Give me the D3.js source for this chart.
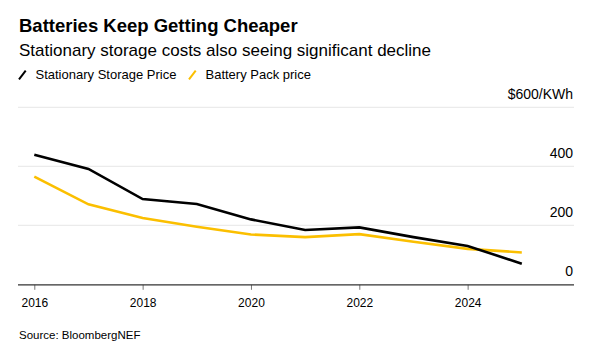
<!DOCTYPE html>
<html>
<head>
<meta charset="utf-8">
<script src="https://cdn.jsdelivr.net/npm/d3@7"></script>
<style>
  body { margin: 0; background: #fff; }
  svg { display: block; font-family: "Liberation Sans", Arial, sans-serif; }
</style>
</head>
<body>
<svg id="chart" width="593" height="348"></svg>
<script>
// values
var years = [2016, 2017, 2018, 2019, 2020, 2021, 2022, 2023, 2024, 2025];
var storagePrice = [439, 391, 289, 272, 220, 184, 193, 160, 130, 70];
var packPrice = [365, 271, 225, 195, 169, 160, 170, 144, 120, 108];
var xTicks = [2016, 2018, 2020, 2022, 2024];
var yTicks = [0, 200, 400, 600];

var svg = d3.select('#chart');

var x = d3.scaleLinear().domain([2016, 2025]).range([34.3, 521.8]);
var y = d3.scaleLinear().domain([0, 600]).range([284.3, 107.3]);
var left = 18, right = 574;

// titles
svg.append('text').attr('x', 19).attr('y', 31.5)
  .attr('font-size', 18.5).attr('font-weight', 'bold').attr('fill', '#000')
  .text('Batteries Keep Getting Cheaper');
svg.append('text').attr('x', 19).attr('y', 56)
  .attr('font-size', 17).attr('fill', '#000')
  .text('Stationary storage costs also seeing significant decline');

// legend
var legend = [
  {label: 'Stationary Storage Price', color: '#000', x: 19},
  {label: 'Battery Pack price', color: '#fbbf00', x: 189}
];
legend.forEach(function(d) {
  svg.append('line')
    .attr('x1', d.x).attr('y1', 79.3).attr('x2', d.x + 6.7).attr('y2', 70.7)
    .attr('stroke', d.color).attr('stroke-width', 2);
  svg.append('text').attr('x', d.x + 16.5).attr('y', 79)
    .attr('font-size', 13).attr('fill', '#000').text(d.label);
});

// grid
svg.append('g').selectAll('line').data(yTicks.filter(function(d) { return d > 0; }))
  .enter().append('line')
    .attr('x1', left).attr('x2', right)
    .attr('y1', function(d) { return y(d); }).attr('y2', function(d) { return y(d); })
    .attr('stroke', '#e6e6e6').attr('stroke-width', 1);

// y labels sit above the gridlines, right aligned
svg.append('g').selectAll('text').data(yTicks)
  .enter().append('text')
    .attr('x', right - 1).attr('y', function(d) { return y(d) - 8; })
    .attr('text-anchor', 'end').attr('font-size', 14).attr('fill', '#000')
    .text(function(d) { return d === 600 ? '$600/KWh' : d; });

// x axis
var xAxis = svg.append('g').attr('transform', 'translate(0,' + 284.8 + ')')
  .call(d3.axisBottom(x).tickValues(xTicks).tickFormat(d3.format('d')).tickSize(5).tickSizeOuter(0));
xAxis.select('.domain').remove();
xAxis.append('line').attr('x1', left).attr('x2', right).attr('stroke', '#333').attr('stroke-width', 1.2);
xAxis.selectAll('.tick line').attr('stroke', '#777');
xAxis.selectAll('.tick text').attr('font-size', 12).attr('fill', '#000')
  .attr('font-family', '"Liberation Sans", Arial, sans-serif').attr('dy', 0).attr('y', 22.5);

// lines
var line = d3.line()
  .x(function(d, i) { return x(years[i]); })
  .y(function(d) { return y(d); });

svg.append('path').datum(packPrice)
  .attr('d', line).attr('fill', 'none')
  .attr('stroke', '#fbbf00').attr('stroke-width', 2.6);
svg.append('path').datum(storagePrice)
  .attr('d', line).attr('fill', 'none')
  .attr('stroke', '#000').attr('stroke-width', 2.6);

// source
svg.append('text').attr('x', 19).attr('y', 339)
  .attr('font-size', 11.5).attr('fill', '#000').text('Source: BloombergNEF');
</script>
</body>
</html>
